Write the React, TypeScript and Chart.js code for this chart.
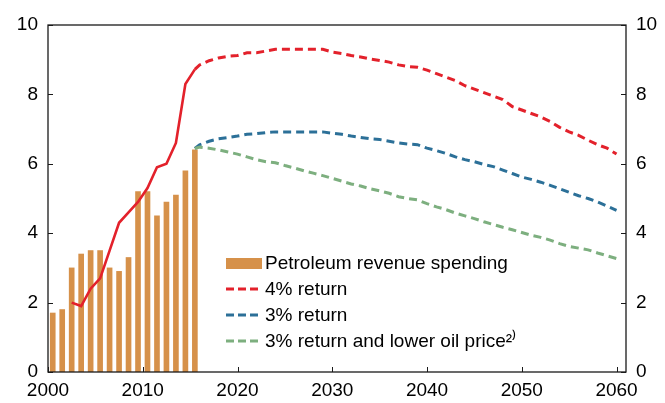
import React, { useEffect, useRef } from "react";
import { Chart, registerables } from "chart.js";

Chart.register(...registerables);

// Bars: petroleum revenue spending (per cent), years 2000–2015
const barYears = [2000, 2001, 2002, 2003, 2004, 2005, 2006, 2007, 2008, 2009, 2010, 2011, 2012, 2013, 2014, 2015];
const spending = [1.7, 1.8, 3.0, 3.4, 3.5, 3.5, 3.0, 2.9, 3.3, 5.2, 5.2, 4.5, 4.9, 5.1, 5.8, 6.4];

// 4% path, historical (solid)
const histYears = [2002, 2003, 2004, 2005, 2006, 2007, 2008, 2009, 2010, 2011, 2012, 2013, 2014, 2015];
const fourPctHist = [2.0, 1.9, 2.4, 2.7, 3.5, 4.3, 4.6, 4.9, 5.3, 5.9, 6.0, 6.6, 8.3, 8.72];

// Projections (dashed)
const projYears = [
  2015.5, 2016, 2017, 2018, 2019, 2020, 2021, 2022, 2023, 2024, 2025, 2026, 2027, 2028, 2029, 2030,
  2031, 2032, 2033, 2034, 2035, 2036, 2037, 2038, 2039, 2040, 2041, 2042, 2043, 2044, 2045,
  2046, 2047, 2048, 2049, 2050, 2051, 2052, 2053, 2054, 2055, 2056, 2057, 2058, 2059, 2060,
];
const fourPct = [
  8.72, 8.85, 8.97, 9.05, 9.1, 9.12, 9.2, 9.2, 9.25, 9.3, 9.3, 9.3, 9.3, 9.3, 9.3, 9.22,
  9.18, 9.12, 9.08, 9.02, 8.98, 8.93, 8.85, 8.8, 8.78, 8.7, 8.6, 8.5, 8.4, 8.25, 8.15,
  8.05, 7.95, 7.85, 7.65, 7.55, 7.45, 7.35, 7.22, 7.05, 6.92, 6.82, 6.68, 6.55, 6.45, 6.28,
];
const threePct = [
  6.44, 6.55, 6.65, 6.72, 6.76, 6.8, 6.85, 6.87, 6.9, 6.92, 6.92, 6.92, 6.92, 6.92, 6.92, 6.88,
  6.85, 6.8, 6.76, 6.72, 6.7, 6.65, 6.6, 6.57, 6.55, 6.45, 6.38, 6.3, 6.2, 6.12, 6.06,
  5.98, 5.92, 5.82, 5.72, 5.62, 5.55, 5.47, 5.38, 5.28, 5.18, 5.08, 5.0, 4.9, 4.78, 4.66,
];
const lowerOil = [
  6.44, 6.48, 6.45, 6.4, 6.34, 6.28, 6.2, 6.12, 6.06, 6.03, 5.95, 5.88, 5.8, 5.73, 5.66, 5.58,
  5.5, 5.42, 5.36, 5.28, 5.22, 5.15, 5.05, 5.0, 4.96, 4.85, 4.76, 4.68, 4.58, 4.5, 4.42,
  4.33, 4.25, 4.17, 4.1, 4.02, 3.94, 3.88, 3.8, 3.7, 3.62, 3.57, 3.52, 3.43, 3.35, 3.27,
];

const xTicks = [2000, 2010, 2020, 2030, 2040, 2050, 2060];
const yTicks = [0, 2, 4, 6, 8, 10];

const legendLabels = [
  "Petroleum revenue spending",
  "4% return",
  "3% return",
  "3% return and lower oil price\u00B2\u207E",
];

const ORANGE = "#D6914A";
const RED = "#E3212B";
const BLUE = "#2C7098";
const GREEN = "#7DAF7F";
const FONT = "'Liberation Sans', Arial, Helvetica, sans-serif";
const MID = 0.5; // annual values centred in their year

const framePlugin = {
  id: "frameAndLegend",
  afterDraw(chart: any) {
    const { ctx, chartArea } = chart;
    const { left, right, top, bottom } = chartArea;
    const xs = chart.scales.x;
    const ys = chart.scales.y;
    ctx.save();
    ctx.strokeStyle = "#1a1a1a";
    ctx.lineWidth = 1.3;
    ctx.strokeRect(left, top, right - left, bottom - top);
    ctx.lineWidth = 1;
    ctx.beginPath();
    yTicks.forEach((v) => {
      const y = Math.round(ys.getPixelForValue(v)) + 0.5;
      ctx.moveTo(left, y);
      ctx.lineTo(left + 5, y);
      ctx.moveTo(right, y);
      ctx.lineTo(right - 5, y);
    });
    xTicks.forEach((v) => {
      const x = Math.round(xs.getPixelForValue(v)) + 0.5;
      ctx.moveTo(x, bottom);
      ctx.lineTo(x, bottom - 5);
    });
    ctx.stroke();

    // legend
    const lx = 226;
    const tx = 265;
    const rows = [263, 289, 315, 341];
    ctx.font = `19px ${FONT}`;
    ctx.textBaseline = "middle";
    ctx.textAlign = "left";
    ctx.fillStyle = ORANGE;
    ctx.fillRect(lx, rows[0] - 5, 36, 11);
    const cols = [RED, BLUE, GREEN];
    for (let i = 0; i < 3; i++) {
      ctx.strokeStyle = cols[i];
      ctx.lineWidth = 3;
      ctx.setLineDash([8, 4]);
      ctx.beginPath();
      ctx.moveTo(lx, rows[i + 1]);
      ctx.lineTo(lx + 32, rows[i + 1]);
      ctx.stroke();
    }
    ctx.setLineDash([]);
    ctx.fillStyle = "#000";
    legendLabels.forEach((t, i) => ctx.fillText(t, tx, rows[i] + 1));
    ctx.restore();
  },
};

export default function App() {
  const ref = useRef<HTMLCanvasElement | null>(null);
  useEffect(() => {
    if (!ref.current) return;
    Chart.defaults.font.family = FONT;
    Chart.defaults.font.size = 19;
    Chart.defaults.color = "#000";
    const lineDs = (label: string, xsArr: number[], vals: number[], color: string, dashed: boolean) => ({
      type: "line" as const,
      label,
      data: xsArr.map((x, i) => ({ x, y: vals[i] })),
      borderColor: color,
      backgroundColor: color,
      borderWidth: dashed ? 3 : 2.6,
      borderDash: dashed ? [8, 5] : [],
      pointRadius: 0,
      tension: 0,
      fill: false,
      order: 1,
    });
    const chart = new Chart(ref.current, {
      type: "bar",
      data: {
        datasets: [
          {
            type: "bar" as const,
            label: legendLabels[0],
            data: barYears.map((yr, i) => ({ x: yr + MID, y: spending[i] })),
            backgroundColor: ORANGE,
            barThickness: 5,
            order: 5,
          } as any,
          lineDs(legendLabels[3], projYears, lowerOil, GREEN, true),
          lineDs(legendLabels[2], projYears, threePct, BLUE, true),
          lineDs(legendLabels[1], projYears, fourPct, RED, true),
          lineDs("4% hist", histYears.map((y) => y + MID), fourPctHist, RED, false),
        ],
      },
      options: {
        responsive: false,
        animation: false,
        layout: { padding: { top: 25, left: 0, right: 0, bottom: 0 } },
        plugins: { legend: { display: false }, tooltip: { enabled: false } },
        scales: {
          x: {
            type: "linear",
            offset: false,
            min: 2000,
            max: 2061,
            grid: { display: false, drawTicks: false, offset: false },
            border: { display: false },
            afterBuildTicks: (s: any) => {
              s.ticks = xTicks.map((v) => ({ value: v }));
            },
            afterFit: (s: any) => {
              s.height = 31;
            },
            ticks: { padding: 7, maxRotation: 0, callback: (v: any) => String(v) },
          },
          y: {
            position: "left",
            min: 0,
            max: 10,
            grid: { display: false, drawTicks: false },
            border: { display: false },
            afterBuildTicks: (s: any) => {
              s.ticks = yTicks.map((v) => ({ value: v }));
            },
            afterFit: (s: any) => {
              s.width = 48;
            },
            ticks: { padding: 10 },
          },
          y2: {
            position: "right",
            min: 0,
            max: 10,
            grid: { display: false, drawTicks: false },
            border: { display: false },
            afterBuildTicks: (s: any) => {
              s.ticks = yTicks.map((v) => ({ value: v }));
            },
            afterFit: (s: any) => {
              s.width = 39;
            },
            ticks: { padding: 10 },
          },
        },
      } as any,
      plugins: [framePlugin],
    });
    return () => chart.destroy();
  }, []);
  return (
    <div style={{ position: "fixed", left: 0, top: 0, width: 665, height: 403, background: "#fff" }}>
      <canvas ref={ref} width={665} height={403} />
    </div>
  );
}
